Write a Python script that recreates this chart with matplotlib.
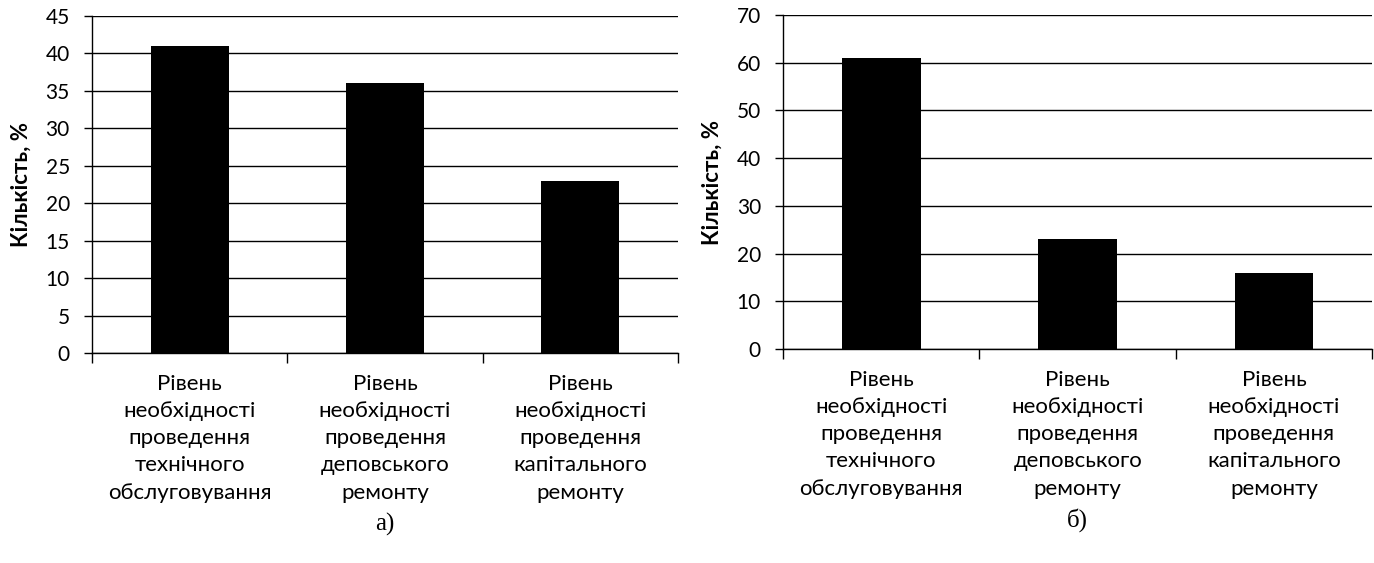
import numpy as np
import matplotlib.pyplot as plt

# Category labels and values
categories = [
    'Рівень\nнеобхідності\nпроведення\nтехнічного\nобслуговування',
    'Рівень\nнеобхідності\nпроведення\nдеповського\nремонту',
    'Рівень\nнеобхідності\nпроведення\nкапітального\nремонту',
]
values_a = [41, 36, 23]
values_b = [61, 23, 16]
ylim_a, ystep_a = 45, 5
ylim_b, ystep_b = 70, 10
panel_names = ['а)', 'б)']
ylabel = 'Кількість, %'

label_font = ['Lato', 'DejaVu Sans']

fig = plt.figure(figsize=(13.74, 5.63), dpi=100)

# Axes boxes in figure coordinates (left, bottom, width, height)
boxes = [
    [0.067, 0.373, 0.4264, 0.5986],
    [0.570, 0.380, 0.4286, 0.5934],
]

for box, values, ymax, ystep, name in zip(
        boxes, [values_a, values_b], [ylim_a, ylim_b], [ystep_a, ystep_b], panel_names):
    ax = fig.add_axes(box)
    x = np.arange(len(categories))
    ax.bar(x, values, width=0.4, color='black', zorder=3)

    ### Axis limits and grid
    ax.set_xlim(-0.5, len(categories) - 0.5)
    ax.set_ylim(0, ymax)
    ax.set_yticks(np.arange(0, ymax + 1, ystep))
    ax.yaxis.grid(True, color='black', linewidth=1.0, zorder=0)
    ax.set_axisbelow(True)

    for side in ['top', 'right']:
        ax.spines[side].set_visible(False)
    ax.spines['left'].set_linewidth(1.0)
    ax.spines['bottom'].set_linewidth(1.0)

    ### Category ticks at boundaries, labels in between
    ax.set_xticks(np.arange(-0.5, len(categories)), minor=False)
    ax.set_xticklabels([])
    ax.set_xticks(x, minor=True)
    ax.set_xticklabels(categories, minor=True, family=label_font, fontsize=16,
                       linespacing=1.45)
    ax.tick_params(axis='x', which='major', length=7, direction='out', width=1)
    ax.tick_params(axis='x', which='minor', length=0, pad=15)
    ax.tick_params(axis='y', length=6, width=1, direction='out', pad=10)
    for t in ax.get_yticklabels():
        t.set_family(label_font)
        t.set_fontsize(15)

    ax.set_ylabel(ylabel, family=label_font, fontsize=16, fontweight='bold', labelpad=10)

    ### Panel caption below the axes
    ax.text(0.5, -0.475, name, transform=ax.transAxes, ha='center', va='top',
            family='Liberation Serif', fontsize=18)

fig.savefig('out.png', dpi=100)
